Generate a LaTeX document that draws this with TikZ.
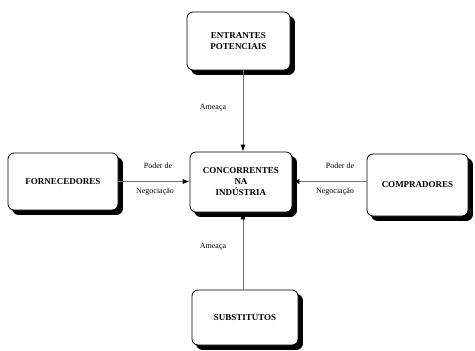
\documentclass[tikz,border=0pt]{standalone}
\usepackage{fontspec}
\setmainfont{Liberation Serif}
\usetikzlibrary{arrows.meta,shadows}
\tikzset{
  caixa/.style={draw, thick, rounded corners=6pt, fill=white, align=center,
    font=\bfseries\small, inner sep=2pt,
    copy shadow={shadow xshift=4.5pt, shadow yshift=-4.5pt, fill=black, draw=black}},
  seta/.style={draw=black!55, thick, -{Latex[black,length=7pt,width=5pt]}},
  rotulo/.style={font=\footnotesize, inner sep=1pt}
}
\begin{document}
\begin{tikzpicture}[x=1pt,y=-1pt]
    \useasboundingbox[fill=white] (0,0) rectangle (475,351);
    % caixas
    \node[caixa, minimum width=103pt, minimum height=58pt] (ent) at (238.5,41) {ENTRANTES\\POTENCIAIS};
    \node[caixa, minimum width=110pt, minimum height=57pt] (forn) at (63,181.5) {FORNECEDORES};
    \node[caixa, minimum width=102pt, minimum height=60pt] (conc) at (241,182) {CONCORRENTES\\NA\\INDÚSTRIA};
    \node[caixa, minimum width=101pt, minimum height=62pt] (comp) at (417.5,185) {COMPRADORES};
    \node[caixa, minimum width=106pt, minimum height=55pt] (subs) at (245,317.5) {SUBSTITUTOS};
    % setas
    \draw[seta] ([xshift=2pt]conc.north |- ent.south) -- ([xshift=2pt]conc.north);
    \draw[seta] ([xshift=2pt]conc.south |- subs.north) -- ([xshift=2pt]conc.south);
    \draw[seta] (forn.east) -- (forn.east -| conc.west);
    \draw[seta] (comp.west |- forn.east) -- (conc.east |- forn.east);
    % rotulos
    \node[rotulo] (am1) at (213,108) {Ameaça};
    \node[rotulo] (am2) at (213,247) {Ameaça};
    \node[rotulo] (pd1) at (158,166) {Poder de};
    \node[rotulo] (ng1) at (155,192) {Negociação};
    \node[rotulo] (pd2) at (340,166) {Poder de};
    \node[rotulo] (ng2) at (335,192) {Negociação};
\end{tikzpicture}
\end{document}
